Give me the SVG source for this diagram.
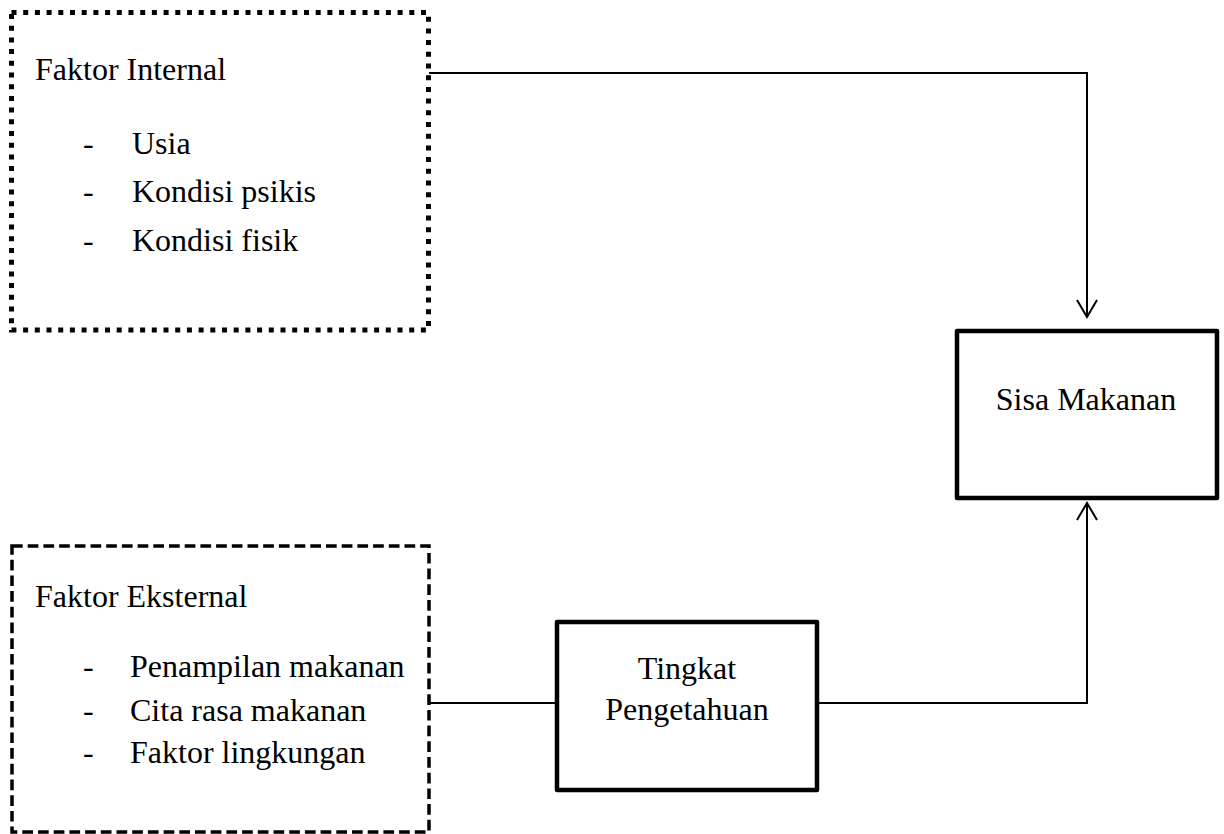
<svg xmlns="http://www.w3.org/2000/svg" width="1224" height="834" viewBox="0 0 1224 834">
<style>
text{font-family:"Liberation Serif","Times New Roman",serif;font-size:32px;fill:#000}
.box{fill:none;stroke:#000;stroke-width:4.5;stroke-linejoin:round}
.dot{fill:none;stroke:#000;stroke-width:5;stroke-dasharray:5 6.7}
.dash{fill:none;stroke:#000;stroke-width:3.5;stroke-dasharray:10.7 5}
.con{fill:none;stroke:#000;stroke-width:2}
</style>
<defs>
<marker id="arr" viewBox="0 0 24 24" refX="20" refY="12" markerWidth="24" markerHeight="24" markerUnits="userSpaceOnUse" orient="auto">
<path d="M3,2 L20,12 L3,22" fill="none" stroke="#000" stroke-width="2"/>
</marker>
</defs>
<rect width="1224" height="834" fill="#fff"/>
<g id="connectors">
<polyline class="con" points="429,73 1087,73 1087,317" marker-end="url(#arr)"/>
<line class="con" x1="429" y1="703" x2="557" y2="703"/>
<polyline class="con" points="817,703 1087,703 1087,503" marker-end="url(#arr)"/>
</g>
<g id="faktor-internal">
<rect class="dot" x="11.5" y="12.5" width="417" height="317.5"/>
<text x="35" y="80">Faktor Internal</text>
<text x="83" y="154">-</text><text x="132" y="154">Usia</text>
<text x="83" y="202">-</text><text x="132" y="202">Kondisi psikis</text>
<text x="83" y="251">-</text><text x="132" y="251">Kondisi fisik</text>
</g>
<g id="faktor-eksternal">
<rect class="dash" x="12" y="546" width="417" height="286"/>
<text x="35" y="607">Faktor Eksternal</text>
<text x="83" y="677">-</text><text x="130" y="677">Penampilan makanan</text>
<text x="83" y="721">-</text><text x="130" y="721">Cita rasa makanan</text>
<text x="83" y="763">-</text><text x="130" y="763">Faktor lingkungan</text>
</g>
<g id="tingkat-pengetahuan">
<rect class="box" x="557" y="622" width="260" height="168"/>
<text x="687" y="679" text-anchor="middle">Tingkat</text>
<text x="687" y="720" text-anchor="middle">Pengetahuan</text>
</g>
<g id="sisa-makanan">
<rect class="box" x="957" y="331" width="260" height="167"/>
<text x="1086" y="410" text-anchor="middle">Sisa Makanan</text>
</g>
</svg>
